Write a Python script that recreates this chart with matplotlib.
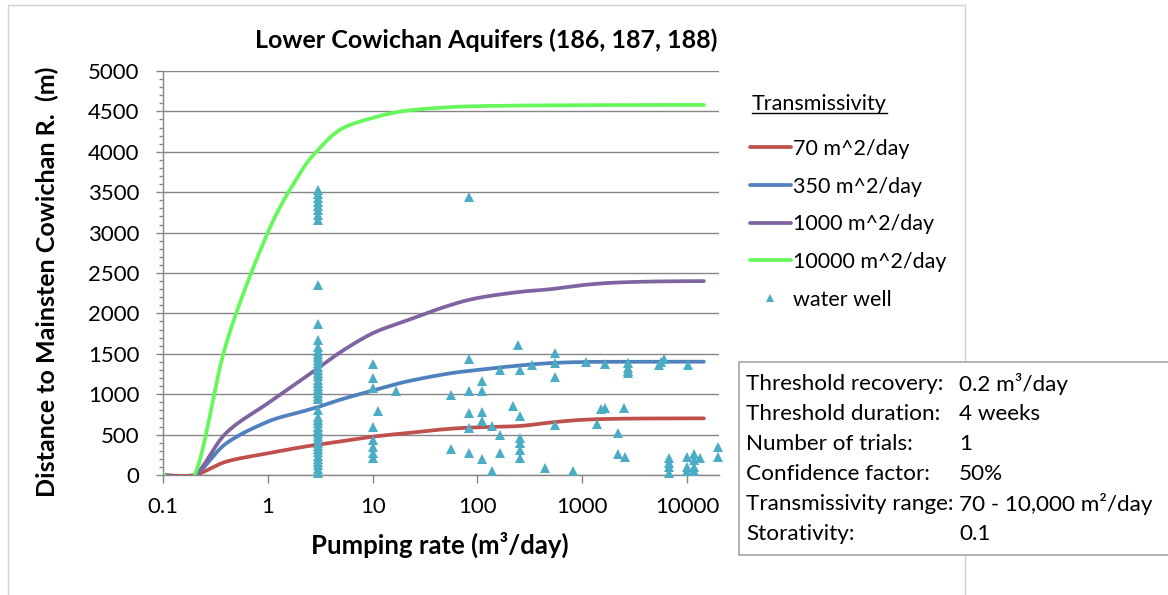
import numpy as np
import matplotlib
matplotlib.use("Agg")
import matplotlib.pyplot as plt
from matplotlib.ticker import FixedLocator, MultipleLocator, NullLocator, FixedFormatter
from matplotlib.patches import Rectangle
from matplotlib.lines import Line2D

plt.rcParams['font.family'] = ['Lato', 'DejaVu Sans']

# ---------------- data ----------------
title = "Lower Cowichan Aquifers (186, 187, 188)"
xlabel = "Pumping rate (m³/day)"
ylabel = "Distance to Mainsten Cowichan R.  (m)"
legend_title = "Transmissivity"
series_labels = ["70 m^2/day", "350 m^2/day", "1000 m^2/day", "10000 m^2/day"]
series_colors = ["#C0504D", "#4F81BD", "#8064A2", "#66F85A"]

curve_x = [0.1, 0.2, 0.4, 1, 2, 3, 5, 10, 20, 50, 100, 250, 500, 1000, 2000, 5000, 14500]
t70 = [0, 0, 165, 268, 340, 375, 415, 474, 515, 568, 590, 606, 650, 683, 695, 700, 701]
t350 = [0, 0, 390, 660, 775, 840, 935, 1045, 1150, 1250, 1300, 1355, 1385, 1398, 1401, 1402, 1402]
t1000 = [0, 0, 520, 887, 1160, 1320, 1525, 1754, 1900, 2085, 2190, 2265, 2300, 2350, 2380, 2395, 2400]
t10000 = [0, 0, 1620, 3000, 3720, 4020, 4280, 4420, 4505, 4550, 4565, 4572, 4575, 4577, 4578, 4580, 4580]

well_x = ([3] * 47 +
          [10] * 8 + [11.2, 16.7] +
          [56, 56, 83, 83, 83, 83, 83, 83, 110, 110, 110, 110, 110, 138, 138,
           165, 165, 165, 220, 243, 254, 254, 254, 254, 254, 254, 331, 445,
           553, 553, 553, 553, 826, 1095, 1380, 1518, 1656, 1656, 2188, 2188,
           2500, 2580, 2750, 2750, 2750, 2750, 5450, 5600, 6080,
           6790, 6790, 6790, 6790, 10000, 10000, 10000, 10300,
           11700, 11700, 11700, 11700, 13400, 19600, 19600])
well_y = ([3530, 3480, 3430, 3380, 3330, 3280, 3220, 3160, 2350, 1870, 1670,
           1580, 1540, 1500, 1460, 1420, 1380, 1340, 1300, 1260, 1220, 1180, 1140,
           1100, 1060, 1020, 980, 940, 800, 720, 680, 640, 600, 560, 520, 480,
           440, 400, 360, 320, 280, 240, 200, 160, 120, 70, 25] +
          [1370, 1197, 1073, 598, 433, 350, 268, 206, 792, 1040] +
          [990, 326, 3440, 1432, 1044, 771, 586, 268, 1167, 1044, 784, 668, 194,
           602, 50, 1295, 490, 268, 850, 1609, 1295, 734, 454, 392, 309, 214,
           1365, 83, 1516, 1390, 1209, 619, 53, 1398, 635, 813, 830, 1378, 524,
           264, 835, 223, 1380, 1330, 1290, 1260, 1365, 1400, 1440,
           210, 150, 100, 25, 220, 100, 50, 1357,
           260, 180, 100, 50, 207, 343, 219])
well_color = "#4BACC6"

info_labels = ["Threshold recovery:", "Threshold duration:", "Number of trials:",
               "Confidence factor:", "Transmissivity range:", "Storativity:"]
info_values = ["0.2 m³/day", "4 weeks", "1", "50%", "70 - 10,000 m²/day", "0.1"]

yticks = [0, 500, 1000, 1500, 2000, 2500, 3000, 3500, 4000, 4500, 5000]
xticks = [0.1, 1, 10, 100, 1000, 10000]
xticklabels = ["0.1", "1", "10", "100", "1000", "10000"]


def excel_smooth(xs, ys, n=30):
    """Bezier smoothing like Excel, done in screen-like coordinates (log x)."""
    u = np.log10(np.asarray(xs, float)) * 105.0
    v = np.asarray(ys, float) * 404.0 / 5000.0
    P = np.column_stack([u, v])
    out = [P[0]]
    m = len(P)
    for i in range(m - 1):
        p0 = P[i - 1] if i > 0 else P[i]
        p1 = P[i]
        p2 = P[i + 1]
        p3 = P[i + 2] if i + 2 < m else P[i + 1]
        c1 = p1 + (p2 - p0) / 6.0
        c2 = p2 - (p3 - p1) / 6.0
        t = np.linspace(0, 1, n)[1:, None]
        b = ((1 - t) ** 3) * p1 + 3 * ((1 - t) ** 2) * t * c1 + 3 * (1 - t) * t ** 2 * c2 + t ** 3 * p2
        out.extend(b)
    out = np.array(out)
    return 10 ** (out[:, 0] / 105.0), out[:, 1] * 5000.0 / 404.0


W, H = 1168, 595
fig = plt.figure(figsize=(W / 100, H / 100), dpi=100)


def fx(px):
    return px / W


def fy(py):
    return 1 - py / H


# chart area border
fig.patches.append(Rectangle((fx(8), -0.01), (965 - 8) / W, 1.01 - 5 / H,
                             transform=fig.transFigure, fill=False,
                             edgecolor="#D0D0D0", linewidth=1.0, zorder=0))

ax = fig.add_axes([fx(163), fy(475), (718.5 - 163) / W, (475 - 71) / H])
ax.set_xscale("log")
ax.set_xlim(0.1, 20000)
ax.set_ylim(0, 5000)

for s in ["top", "right"]:
    ax.spines[s].set_visible(False)
for s in ["left", "bottom"]:
    ax.spines[s].set_color("#868686")
    ax.spines[s].set_linewidth(1.0)

ax.yaxis.set_major_locator(FixedLocator(yticks))
ax.yaxis.set_minor_locator(MultipleLocator(100))
ax.xaxis.set_major_locator(FixedLocator(xticks))
ax.xaxis.set_major_formatter(FixedFormatter(xticklabels))
ax.xaxis.set_minor_locator(NullLocator())
ax.grid(axis="y", which="major", color="#868686", linewidth=1.0)
ax.set_axisbelow(True)
ax.tick_params(axis="y", which="major", direction="out", length=5, width=1, color="#868686",
               labelsize=16, pad=12)
ax.tick_params(axis="y", which="minor", direction="out", length=3, width=1, color="#868686")
ax.tick_params(axis="x", which="major", direction="out", length=6, width=1, color="#868686",
               labelsize=16, pad=10)

for ys, lab, col in zip([t70, t350, t1000, t10000], series_labels, series_colors):
    sx, sy = excel_smooth(curve_x, ys)
    ax.plot(sx, sy, color=col, linewidth=2.7, label=lab, solid_capstyle="round", zorder=3)

ax.plot(well_x, well_y, linestyle="none", marker="^", markersize=7.5, color=well_color,
        markeredgewidth=0, label="water well", zorder=4, clip_on=False)

fig.text(fx(486), fy(40), title, fontsize=18, fontweight="bold", ha="center", va="center")
fig.text(fx(440), fy(545), xlabel, fontsize=18.5, fontweight="bold", ha="center", va="center")
fig.text(fx(47), fy(282), ylabel, fontsize=18, fontweight="bold", ha="center", va="center",
         rotation=90)

# legend
handles, labels = ax.get_legend_handles_labels()
leg = fig.legend(handles, labels, loc="upper left", bbox_to_anchor=(fx(750), fy(139)),
                 frameon=False, fontsize=15.5, handlelength=1.9, handletextpad=0.12,
                 labelspacing=0.82, borderaxespad=0, borderpad=0, markerscale=0.8)
lt = fig.text(fx(752), fy(104), legend_title, fontsize=15.5, va="center", ha="left")
fig.canvas.draw()
bb = lt.get_window_extent(fig.canvas.get_renderer())
fig.add_artist(Line2D([bb.x0 / W, bb.x1 / W], [fy(113), fy(113)],
                      transform=fig.transFigure, color="black", linewidth=1.0))

# info box
fig.patches.append(Rectangle((fx(739), fy(555)), (1175 - 739) / W, (555 - 362) / H,
                             transform=fig.transFigure, facecolor="white",
                             edgecolor="#A6A6A6", linewidth=1.2, zorder=5))
for i, (l, v) in enumerate(zip(info_labels, info_values)):
    yy = fy(384 + 30 * i)
    fig.text(fx(746), yy, l, fontsize=16.2, va="center", ha="left", zorder=6)
    fig.text(fx(959), yy, v, fontsize=16.2, va="center", ha="left", zorder=6)

fig.savefig("out.png", dpi=100)
